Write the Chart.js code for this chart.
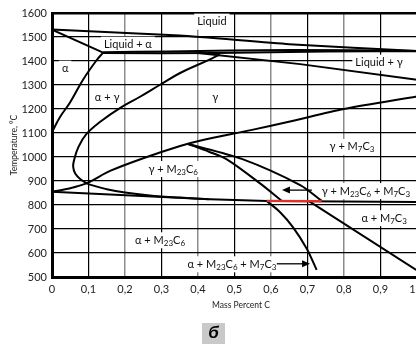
<!DOCTYPE html>
<html>
<head>
<meta charset="utf-8">
<script src="https://cdn.jsdelivr.net/npm/chart.js"></script>
<style>
  html, body { margin: 0; padding: 0; background: #fff; overflow: hidden; }
  canvas { display: block; }
</style>
</head>
<body>
<canvas id="phaseChart" width="440" height="344"></canvas>
<script>
// axis ticks
const carbonTicks = [0, 0.1, 0.2, 0.3, 0.4, 0.5, 0.6, 0.7, 0.8, 0.9, 1.0];
const tempTicks = [500, 600, 700, 800, 900, 1000, 1100, 1200, 1300, 1400, 1500, 1600];

// phase boundaries as [mass % C, temperature °C]
const liquidus     = [[0, 1531], [0.35, 1506], [0.65, 1470], [1.0, 1442]];
const alphaSolidus = [[0, 1531], [0.14, 1435]];
const periUpper    = [[0.14, 1436], [0.32, 1440], [0.66, 1446], [1.0, 1442]];
const periLower    = [[0.14, 1433], [0.45, 1433], [0.75, 1440], [1.0, 1441]];
const gammaSolidus = [[0.40, 1433], [0.68, 1387], [1.0, 1322]];
const alphaGamma   = [[0.14, 1435], [0.123, 1405], [0.085, 1322], [0.049, 1226], [0.022, 1167], [0, 1104]];
const gammaLoop    = [[0.46, 1428], [0.43, 1405], [0.351, 1350], [0.296, 1301], [0.24, 1250], [0.186, 1204],
                      [0.135, 1150], [0.094, 1095], [0.072, 1040], [0.061, 990], [0.058, 960], [0.064, 930],
                      [0.08, 905], [0.097, 888]];
const carbideSolvus = [[0, 855], [0.05, 870], [0.097, 892], [0.159, 942], [0.25, 995], [0.351, 1046],
                       [0.405, 1068], [0.548, 1113], [0.652, 1148], [0.8, 1200], [1.0, 1252]];
const lowerLoop    = [[0.097, 888], [0.15, 866], [0.2, 852], [0.268, 840], [0.35, 831], [0.43, 824]];
const eutectoid    = [[0, 855], [0.433, 824], [0.59, 817], [1.0, 813]];
const m7Inner      = [[0.373, 1054], [0.43, 1022], [0.479, 990], [0.57, 890], [0.629, 818]];
const m7Outer      = [[0.373, 1054], [0.52, 992], [0.68, 883], [0.739, 817]];
const alphaM23     = [[0.588, 817], [0.625, 770], [0.66, 708], [0.698, 618], [0.725, 530]];
const alphaM7      = [[0.705, 815], [1.0, 527]];
const invariant    = [[0.588, 817], [0.739, 816]];

// region names
const regionLabels = [
  { text: 'Liquid', x: 0.438, t: 1564 },
  { text: 'Liquid + α', x: 0.208, t: 1468 },
  { text: 'α', x: 0.036, t: 1368 },
  { text: 'α + γ', x: 0.151, t: 1247 },
  { text: 'γ', x: 0.447, t: 1247 },
  { text: 'Liquid + γ', x: 0.896, t: 1393, extraRight: 12 },
  { text: 'γ + M7C3', x: 0.822, t: 1042 },
  { text: 'γ + M23C6', x: 0.332, t: 950 },
  { text: 'γ + M23C6 + M7C3', x: 0.860, t: 858 },
  { text: 'α + M7C3', x: 0.910, t: 745 },
  { text: 'α + M23C6', x: 0.296, t: 653 },
  { text: 'α + M23C6 + M7C3', x: 0.493, t: 553 }
];
const arrows = [
  { from: [0.712, 862], to: [0.630, 862] },
  { from: [0.616, 555], to: [0.707, 555] }
];

const toXY = pts => pts.map(p => ({ x: p[0], y: p[1] }));
function curve(pts, tension, color, width) {
  return {
    data: toXY(pts),
    showLine: true,
    borderColor: color || '#000',
    borderWidth: width || 2,
    pointRadius: 0,
    tension: tension || 0,
    fill: false
  };
}

const MAIN_FONT = '11px Lato';
const SUB_FONT = '8px Lato';

function richWidth(ctx, str) {
  let w = 0;
  str.split(/(\d+)/).forEach((p, i) => {
    ctx.font = i % 2 ? SUB_FONT : MAIN_FONT;
    w += ctx.measureText(p).width;
  });
  return w;
}
function drawRich(ctx, str, cx, cy) {
  const w = richWidth(ctx, str);
  let x = cx - w / 2;
  str.split(/(\d+)/).forEach((p, i) => {
    ctx.font = i % 2 ? SUB_FONT : MAIN_FONT;
    ctx.fillText(p, x, i % 2 ? cy + 3 : cy);
    x += ctx.measureText(p).width;
  });
}

const annotate = {
  id: 'annotate',
  beforeDatasetsDraw(chart) {
    const { ctx, scales: { x, y } } = chart;
    ctx.save();
    ctx.textBaseline = 'middle';
    ctx.textAlign = 'left';
    regionLabels.forEach(l => {
      const cx = x.getPixelForValue(l.x);
      const cy = y.getPixelForValue(l.t);
      const w = richWidth(ctx, l.text);
      ctx.fillStyle = '#fff';
      ctx.fillRect(cx - w / 2 - 3, cy - 8, w + 6 + (l.extraRight || 0), 16);
      ctx.fillStyle = '#111';
      drawRich(ctx, l.text, cx, cy);
    });
    ctx.restore();
  },
  afterDatasetsDraw(chart) {
    const { ctx, scales: { x, y } } = chart;
    ctx.save();
    ctx.strokeStyle = '#000';
    ctx.fillStyle = '#000';
    ctx.lineWidth = 1.3;
    arrows.forEach(a => {
      const x1 = x.getPixelForValue(a.from[0]), y1 = y.getPixelForValue(a.from[1]);
      const x2 = x.getPixelForValue(a.to[0]), y2 = y.getPixelForValue(a.to[1]);
      const ang = Math.atan2(y2 - y1, x2 - x1);
      ctx.beginPath();
      ctx.moveTo(x1, y1);
      ctx.lineTo(x2 - 6 * Math.cos(ang), y2 - 6 * Math.sin(ang));
      ctx.stroke();
      ctx.beginPath();
      ctx.moveTo(x2, y2);
      ctx.lineTo(x2 - 8 * Math.cos(ang) + 3.5 * Math.sin(ang), y2 - 8 * Math.sin(ang) - 3.5 * Math.cos(ang));
      ctx.lineTo(x2 - 8 * Math.cos(ang) - 3.5 * Math.sin(ang), y2 - 8 * Math.sin(ang) + 3.5 * Math.cos(ang));
      ctx.closePath();
      ctx.fill();
    });
    ctx.restore();
  },
  afterDraw(chart) {
    const { ctx, chartArea } = chart;
    ctx.save();
    ctx.fillStyle = '#222';
    ctx.font = '8.5px Lato';
    ctx.textAlign = 'center';
    ctx.textBaseline = 'middle';
    ctx.fillText('Mass Percent C', 241, 305);
    ctx.translate(14, (chartArea.top + chartArea.bottom) / 2);
    ctx.rotate(-Math.PI / 2);
    ctx.fillText('Temperature, °C', 0, 0);
    ctx.restore();

    ctx.save();
    ctx.fillStyle = '#c9c9c9';
    ctx.fillRect(202, 323, 23, 21);
    ctx.fillStyle = '#000';
    ctx.font = 'italic bold 17px "Liberation Sans"';
    ctx.textAlign = 'center';
    ctx.textBaseline = 'middle';
    ctx.fillText('б', 213.5, 333);
    ctx.restore();
  }
};

const isEvenTenth = v => {
  const k = Math.round(v * 10);
  return k > 0 && k < 10 && k % 2 === 0;
};

new Chart(document.getElementById('phaseChart'), {
  type: 'scatter',
  data: {
    datasets: [
      curve(invariant, 0, '#e0322a', 2.2),
      curve(liquidus, 0.2),
      curve(alphaSolidus),
      curve(periUpper, 0.2),
      curve(periLower, 0.2),
      curve(gammaSolidus),
      curve(alphaGamma, 0.4),
      curve(gammaLoop, 0.4),
      curve(carbideSolvus, 0.3),
      curve(lowerLoop, 0.3),
      curve(eutectoid),
      curve(m7Inner, 0.3),
      curve(m7Outer, 0.3),
      curve(alphaM23, 0.3),
      curve(alphaM7)
    ]
  },
  options: {
    responsive: false,
    animation: false,
    layout: { padding: { left: 0, right: 23, top: 13, bottom: 37 } },
    plugins: {
      legend: { display: false },
      tooltip: { enabled: false }
    },
    scales: {
      x: {
        type: 'linear',
        min: 0,
        max: 1,
        afterBuildTicks: s => { s.ticks = carbonTicks.map(v => ({ value: v })); },
        afterFit: s => { s.height = 30; },
        ticks: {
          color: '#222',
          font: { family: 'Lato', size: 11 },
          padding: 6,
          maxRotation: 0,
          callback: v => v === 0 ? '0' : v.toFixed(1).replace('.', ',')
        },
        grid: {
          drawTicks: false,
          color: c => isEvenTenth(c.tick.value) ? '#8c8c8c' : '#000',
          lineWidth: c => isEvenTenth(c.tick.value) ? 1.5 : 1.2
        },
        border: { color: '#000', width: 3 }
      },
      y: {
        type: 'linear',
        min: 500,
        max: 1600,
        afterBuildTicks: s => { s.ticks = tempTicks.map(v => ({ value: v })); },
        afterFit: s => { s.width = 52; },
        ticks: {
          color: '#222',
          font: { family: 'Lato', size: 11 },
          padding: 5,
          callback: v => String(v)
        },
        grid: {
          drawTicks: false,
          color: '#000',
          lineWidth: c => c.tick.value === 1600 ? 2.5 : 1.2
        },
        border: { color: '#000', width: 3 }
      }
    }
  },
  plugins: [annotate]
});
</script>
</body>
</html>
